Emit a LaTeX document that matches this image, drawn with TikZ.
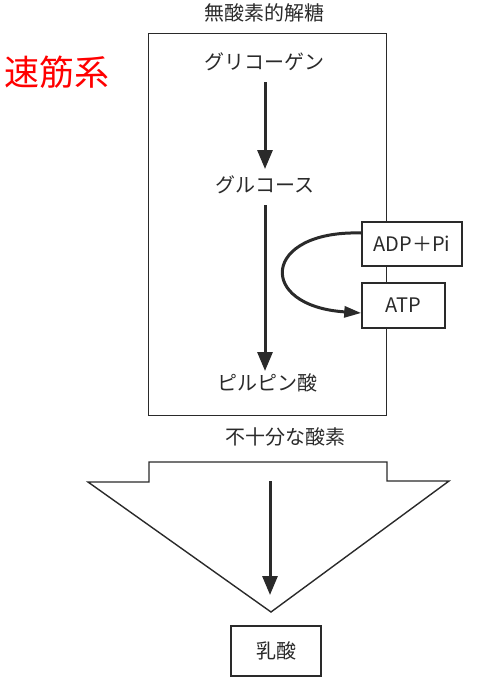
\documentclass[tikz,border=0pt]{standalone}
\usepackage{fontspec}
\setmainfont{Noto Sans CJK JP}
\usetikzlibrary{arrows.meta,calc}
\definecolor{ink}{HTML}{2A2A2A}
\tikzset{
  lbl/.style={inner sep=0pt, text=ink, font=\fontsize{20}{20}\selectfont},
  boxed/.style={draw=ink, line width=1.5pt, fill=white, inner sep=0pt, text=ink, font=\fontsize{20}{20}\selectfont},
  bigarrow/.style={draw=ink, line width=3pt, -{Triangle[length=19pt,width=15pt]}},
  curvarrow/.style={draw=ink, line width=3pt, -{Triangle[length=17pt,width=11pt]}},
  outline/.style={draw=ink, line width=1.4pt}
}
\begin{document}
\begin{tikzpicture}[x=1pt,y=-1pt]
\useasboundingbox (0,0) rectangle (486,678);
% title
\node[lbl] (title) at (264,13) {無酸素的解糖};
\node[text=red, inner sep=0pt, font=\fontsize{35}{35}\selectfont] (fast) at (57,72) {速筋系};
% main box
\node[outline, anchor=north west, minimum width=238pt, minimum height=382pt, inner sep=0pt] (main) at (148,33) {};
\node[lbl] (gly) at (264,62) {グリコーゲン};
\node[lbl] (glu) at (265,185) {グルコース};
\node[lbl] (pyr) at (267,383) {ピルピン酸};
\coordinate (a1s) at (265,82);
\coordinate (a1e) at (265,169);
\coordinate (a2s) at (265,205);
\coordinate (a2e) at (265,371);
\draw[bigarrow] (a1s) -- (a1e);
\draw[bigarrow] (a2s) -- (a2e);
% ADP / ATP
\node[boxed, minimum width=100pt, minimum height=44pt] (adp) at (412,244) {ADP＋Pi};
\node[boxed, minimum width=83pt, minimum height=45pt] (atp) at (403.5,305.5) {ATP};
\coordinate (cs) at ($(adp.west)+(0,-11)$);
\coordinate (ce) at ($(atp.west)+(0,7.5)$);
\draw[curvarrow] (cs) .. controls (262,230) and (256,306) .. (ce);
% insufficient oxygen
\node[lbl] (oxy) at (285,437) {不十分な酸素};
\draw[outline, line join=miter] (149,482) -- (149,462) -- (387,462) -- (387,481) -- (449,481) -- (271,612) -- (88,482) -- cycle;
\coordinate (a3s) at (270,481);
\coordinate (a3e) at (270,595);
\draw[bigarrow] (a3s) -- (a3e);
% lactic acid
\node[boxed, minimum width=90pt, minimum height=50pt] (lac) at (276,651) {乳酸};
\end{tikzpicture}
\end{document}
